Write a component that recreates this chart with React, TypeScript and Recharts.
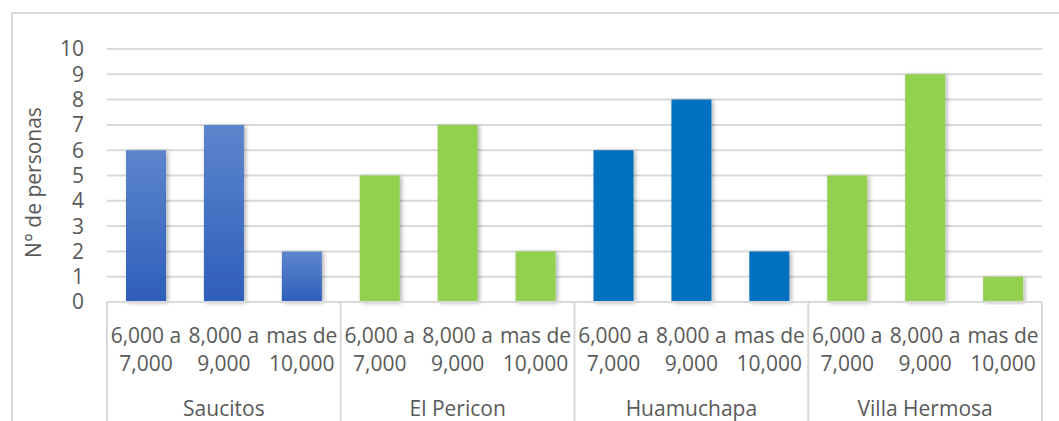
import React from 'react';
import { BarChart, Bar, XAxis, YAxis, CartesianGrid, Cell, Label } from 'recharts';

// Localities (top-level category groups)
const groups = ['Saucitos', 'El Pericon', 'Huamuchapa', 'Villa Hermosa'];
// Income ranges (two-line sub-category labels)
const rangeTop = ['6,000 a', '8,000 a', 'mas de'];
const rangeBottom = ['7,000', '9,000', '10,000'];
// Number of people per income range, per locality
const saucitos = [6, 7, 2];
const elPericon = [5, 7, 2];
const huamuchapa = [6, 8, 2];
const villaHermosa = [5, 9, 1];
const yTicks = [0, 1, 2, 3, 4, 5, 6, 7, 8, 9, 10];

const groupValues = [saucitos, elPericon, huamuchapa, villaHermosa];
const groupFills = ['url(#saucitosFill)', '#92d050', '#0070c0', '#92d050'];

const data = groups.flatMap((g, gi) =>
  groupValues[gi].map((v, ri) => ({
    key: `${g}-${ri}`,
    group: g,
    top: rangeTop[ri],
    bottom: rangeBottom[ri],
    value: v,
    fill: groupFills[gi],
    pos: ri,
  }))
);

const W = 1059;
const H = 421;
const MARGIN = { top: 49, right: 17, left: 47, bottom: 0 };
const Y_W = 60;
const X_H = 119;
const BAND = (W - MARGIN.left - MARGIN.right - Y_W) / data.length;

const TEXT = '#595959';
const LINE = '#d9d9d9';
const FONT = '"Open Sans", "Noto Sans", sans-serif';

const CategoryTick = (props: any) => {
  const { x, y, payload } = props;
  const d = data[payload.index];
  const half = BAND / 2;
  return (
    <g>
      {d.pos === 0 && (
        <line x1={x - half} x2={x - half} y1={y} y2={y + 130} stroke={LINE} strokeWidth={2} />
      )}
      {payload.index === data.length - 1 && (
        <line x1={x + half} x2={x + half} y1={y} y2={y + 130} stroke={LINE} strokeWidth={2} />
      )}
      <text x={x} y={y + 41} textAnchor="middle" fill={TEXT} fontSize={21} fontFamily={FONT}>
        {d.top}
      </text>
      <text x={x} y={y + 69} textAnchor="middle" fill={TEXT} fontSize={21} fontFamily={FONT}>
        {d.bottom}
      </text>
      {d.pos === 1 && (
        <text x={x} y={y + 114} textAnchor="middle" fill={TEXT} fontSize={21} fontFamily={FONT}>
          {d.group}
        </text>
      )}
    </g>
  );
};

const AxisTitle = (props: any) => {
  const { viewBox } = props;
  const cx = viewBox.x - 14;
  const cy = viewBox.y + viewBox.height / 2 + 7;
  return (
    <text
      x={cx}
      y={cy}
      transform={`rotate(-90, ${cx}, ${cy})`}
      textAnchor="middle"
      dominantBaseline="central"
      fill={TEXT}
      fontSize={21}
      fontFamily={FONT}
    >
      N° de personas
    </text>
  );
};

export default function App() {
  return (
    <div style={{ position: 'absolute', left: 0, top: 0, width: W, height: H, overflow: 'hidden', background: '#fff' }}>
      <div
        style={{
          position: 'absolute',
          left: 11,
          top: 12,
          width: W,
          height: H,
          border: `2px solid ${LINE}`,
          boxSizing: 'border-box',
        }}
      />
      <div style={{ position: 'absolute', left: 0, top: 0 }}>
        <BarChart width={W} height={H} data={data} margin={MARGIN} barSize={40}>
          <defs>
            <linearGradient id="saucitosFill" x1="0" y1="0" x2="0" y2="1">
              <stop offset="0%" stopColor="#5d85cd" />
              <stop offset="100%" stopColor="#2e5eba" />
            </linearGradient>
            <filter id="barShadow" x="-20%" y="-10%" width="150%" height="120%">
              <feDropShadow dx="2" dy="1" stdDeviation="2" floodColor="#000" floodOpacity="0.3" />
            </filter>
          </defs>
          <CartesianGrid vertical={false} stroke={LINE} strokeWidth={2} />
          <XAxis
            dataKey="key"
            interval={0}
            height={X_H}
            tickSize={0}
            tickMargin={0}
            axisLine={{ stroke: LINE, strokeWidth: 2 }}
            tickLine={false}
            tick={<CategoryTick />}
          />
          <YAxis
            width={Y_W}
            domain={[0, 10]}
            ticks={yTicks}
            interval={0}
            axisLine={false}
            tickLine={false}
            tickSize={0}
            tickMargin={23}
            tick={{ fill: TEXT, fontSize: 21, fontFamily: FONT }}
          >
            <Label content={<AxisTitle />} />
          </YAxis>
          <Bar dataKey="value" isAnimationActive={false} filter="url(#barShadow)">
            {data.map((d) => (
              <Cell key={d.key} fill={d.fill} />
            ))}
          </Bar>
        </BarChart>
      </div>
    </div>
  );
}
